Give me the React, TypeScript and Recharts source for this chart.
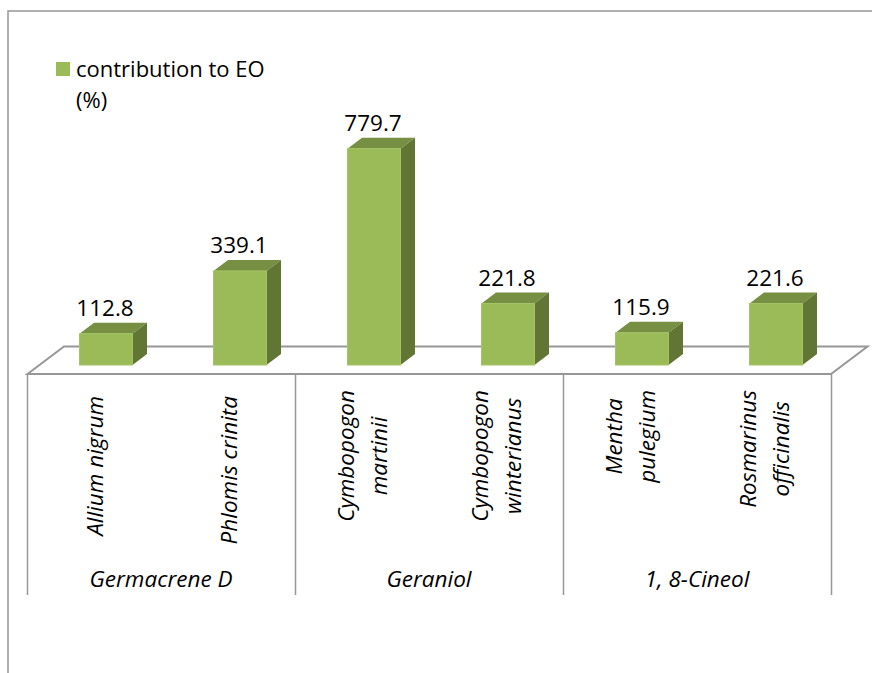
import React from "react";
import { BarChart, Bar, XAxis, YAxis, Legend, LabelList, usePlotArea } from "recharts";

const categories = [
  "Allium nigrum",
  "Phlomis crinita",
  "Cymbopogon\nmartinii",
  "Cymbopogon\nwinterianus",
  "Mentha\npulegium",
  "Rosmarinus\nofficinalis",
];
const values = [112.8, 339.1, 779.7, 221.8, 115.9, 221.6];
const groupLabels = ["Germacrene D", "Geraniol", "1, 8-Cineol"];
const seriesName = "contribution to EO (%)";

const data = categories.map((category, i) => ({ category, value: values[i] }));

const FONT = "'Open Sans', sans-serif";
const LINE = "#979797";
const FRONT = "#9BBB59";
const TOP = "#768F43";
const SIDE = "#617534";
const DX = 14.5;
const DY = 11;
const FONT_SIZE = 22.5;

function measure(text: string): number {
  const ctx = document.createElement("canvas").getContext("2d");
  if (!ctx) return text.length * 10;
  ctx.font = `italic ${FONT_SIZE}px 'Open Sans'`;
  return ctx.measureText(text).width;
}

const Bar3D = (props: any) => {
  const { x, y, width, height } = props;
  return (
    <g>
      <polygon
        points={`${x},${y} ${x + DX},${y - DY} ${x + width + DX},${y - DY} ${x + width},${y}`}
        fill={TOP}
      />
      <polygon
        points={`${x + width},${y} ${x + width + DX},${y - DY} ${x + width + DX},${y + height - DY} ${x + width},${y + height}`}
        fill={SIDE}
      />
      <rect x={x} y={y} width={width} height={height} fill={FRONT} stroke="#A5C466" strokeWidth={1} />
    </g>
  );
};

const Floor = () => {
  const plot = usePlotArea();
  if (!plot) return null;
  const left = plot.x - 11;
  const right = plot.x + plot.width - 11.5;
  const front = plot.y + plot.height + 9;
  const back = plot.y + plot.height - 18.5;
  const shift = 36.5;
  return (
    <g>
      <path d="M8 673 V11 H872" fill="none" stroke={LINE} strokeWidth={1.5} />
      <polygon
        points={`${left},${front} ${left + shift},${back} ${right + shift},${back} ${right},${front}`}
        fill="#fff"
        stroke={LINE}
        strokeWidth={2}
      />
    </g>
  );
};

const CategoryTick = (props: any) => {
  const { x, y, index, payload } = props;
  const band = 134;
  const lines: string[] = String(payload.value).split("\n");
  const top = y + (lines.length > 1 ? 17 : 23);
  const longest = Math.max(...lines.map(measure));
  const cy = top + longest / 2;
  const cx = x - 9.5;
  const groupIndex = Math.floor(index / 2);
  const isFirst = index % 2 === 0;
  const lineTop = y + 1;
  const lineBottom = y + 222;
  return (
    <g>
      {lines.map((line, i) => {
        const lx = cx + (i - (lines.length - 1) / 2) * 33 + 7;
        return (
          <text
            key={line}
            x={lx}
            y={cy}
            transform={`rotate(-90 ${lx} ${cy})`}
            textAnchor="middle"
            fontFamily={FONT}
            fontStyle="italic"
            fontSize={FONT_SIZE}
            fill="#000"
          >
            {line}
          </text>
        );
      })}
      {isFirst && (
        <>
          <line x1={x - band / 2 - 11} x2={x - band / 2 - 11} y1={lineTop} y2={lineBottom} stroke={LINE} strokeWidth={1.5} />
          <text
            x={x + 55.5}
            y={y + 214}
            textAnchor="middle"
            fontFamily={FONT}
            fontStyle="italic"
            fontSize={FONT_SIZE}
            fill="#000"
          >
            {groupLabels[groupIndex]}
          </text>
        </>
      )}
      {index === categories.length - 1 && (
        <line x1={x + band / 2 - 11} x2={x + band / 2 - 11} y1={lineTop} y2={lineBottom} stroke={LINE} strokeWidth={1.5} />
      )}
    </g>
  );
};

const ValueLabel = (props: any) => {
  const { x, y, width, value } = props;
  return (
    <text
      x={x + width / 2 - 1}
      y={y - 17.5}
      textAnchor="middle"
      fontFamily={FONT}
      fontSize={22.5}
      fill="#000"
    >
      {Number(value).toFixed(1)}
    </text>
  );
};

const LegendContent = (props: any) => {
  const item = props.payload?.[0];
  return (
    <div style={{ display: "flex", fontFamily: FONT, fontSize: 22, lineHeight: "31px", color: "#000" }}>
      <span style={{ width: 14, height: 14, marginTop: 9, marginRight: 6, background: FRONT, flex: "none" }} />
      <span style={{ width: 200 }}>{item?.value}</span>
    </div>
  );
};

export default function App() {
  return (
    <div style={{ position: "absolute", left: 0, top: 0, width: 872, height: 673 }}>
      <BarChart
        width={872}
        height={673}
        data={data}
        margin={{ top: 143, right: 29.5, bottom: 78, left: 38.5 }}
      >
        <Floor />
        <XAxis
          dataKey="category"
          interval={0}
          height={230}
          axisLine={false}
          tickLine={false}
          tick={<CategoryTick />}
        />
        <YAxis hide domain={[0, 800]} width={0} />
        <Legend
          layout="vertical"
          align="center"
          verticalAlign="middle"
          content={<LegendContent />}
          wrapperStyle={{ left: 56, top: 53, width: 230, right: "auto", bottom: "auto" }}
        />
        <Bar
          dataKey="value"
          name={seriesName}
          barSize={53}
          fill={FRONT}
          shape={<Bar3D />}
          isAnimationActive={false}
        >
          <LabelList dataKey="value" content={<ValueLabel />} />
        </Bar>
      </BarChart>
    </div>
  );
}
